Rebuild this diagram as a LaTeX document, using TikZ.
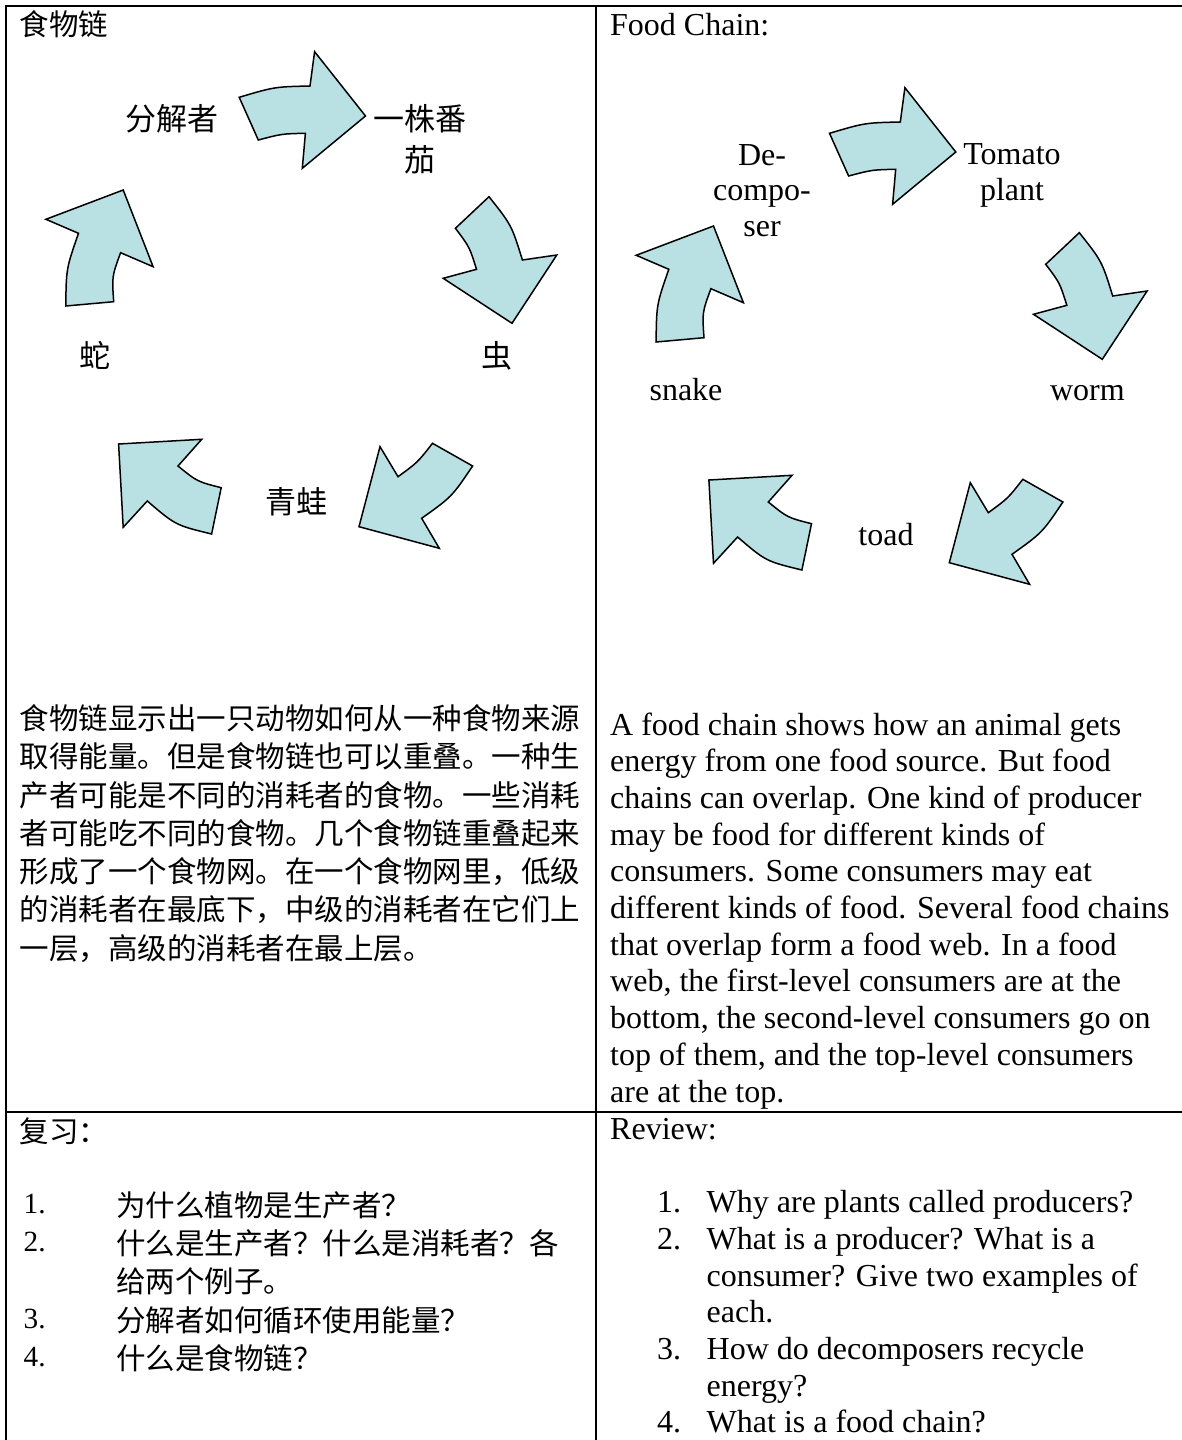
\documentclass[tikz,border=0pt]{standalone}
\usepackage{fontspec}
\setmainfont{Liberation Serif}
\newfontfamily\cjk{Noto Sans CJK SC}
\definecolor{arrowfill}{RGB}{185,224,227}
\newcommand\foodcyclearrows{%
  % top arrow
  \draw[cyclearrow] (239.2,97.3) .. controls (274.6,86.8) .. (310,86) -- (314.6,51.7) -- (365.5,116) -- (302.3,168.3) -- (305.4,133.3) .. controls (281.85,133.8) .. (258.3,140) -- cycle;
  % right arrow
  \draw[cyclearrow] (489,196.7) .. controls (511.6,225.2) .. (522.4,260) -- (556.8,255) -- (512,323.3) -- (443.2,278.3) -- (476.5,269.3) .. controls (469.5,246.9) .. (455.4,228.3) -- cycle;
  % bottom right arrow
  \draw[cyclearrow] (380,446.7) -- (398,476.7) .. controls (417.7,462.3) .. (432.5,443.3) -- (472.6,466) .. controls (451.9,496.75) .. (421.7,518.3) -- (439.3,548.3) -- (359,526.7) -- cycle;
  % bottom left arrow
  \draw[cyclearrow] (118.6,444) -- (201.7,439.3) -- (178,466) .. controls (197.2,481.6) .. (221.2,487.7) -- (211.6,534) .. controls (175.5,525.2) .. (147.3,501) -- (123.2,527.3) -- cycle;
  % left arrow
  \draw[cyclearrow] (65.8,306) .. controls (66.2,268.65) .. (78.5,233.3) -- (45.9,219.3) -- (123.2,190) -- (153.1,266.7) -- (120.6,252.7) .. controls (111.9,276.5) .. (113.7,301.7) -- cycle;
}
\begin{document}
\begin{tikzpicture}[x=1pt,y=-1pt,
  grid/.style={line width=2pt},
  cyclearrow/.style={draw=black, fill=arrowfill, line width=1.5pt, line join=miter},
  en/.style={font=\fontsize{32}{37}\selectfont, inner sep=0pt, anchor=base west},
  ennum/.style={font=\fontsize{29.3}{34}\selectfont, inner sep=0pt, anchor=base west},
  enlabel/.style={font=\fontsize{32}{37}\selectfont, inner sep=0pt, anchor=base},
  zh/.style={font=\cjk\fontsize{29.5}{38}\selectfont, inner sep=0pt, anchor=west},
  zhlabel/.style={font=\cjk\fontsize{31}{40}\selectfont, inner sep=0pt, anchor=center}]
\useasboundingbox (0,0) rectangle (1182,1440);
\fill[white] (0,0) rectangle (1182,1440);

% table lines
\draw[grid] (5.5,1440) -- (5.5,5.5) -- (1182,5.5);
\draw[grid] (595.7,5.5) -- (595.7,1440);
\draw[grid] (5.5,1111.7) -- (1182,1111.7);

% cycle diagrams
\begin{scope}
  \foodcyclearrows
\end{scope}
\begin{scope}[shift={(590.3,36)}]
  \foodcyclearrows
\end{scope}

% left panel
\node[zh] (zhtitle) at (19.5,24.5) {食物链};
\node[zhlabel] (zhdecomp) at (172,118.3) {分解者};
\node[zhlabel] (zhtomatoA) at (420,118.3) {一株番};
\node[zhlabel] (zhtomatoB) at (420,160) {茄};
\node[zhlabel] (zhsnake) at (94.7,355.8) {蛇};
\node[zhlabel] (zhworm) at (497,355.8) {虫};
\node[zhlabel] (zhfrog) at (296.5,501.7) {青蛙};

\node[zh] (zhb1) at (19.5,718.3) {食物链显示出一只动物如何从一种食物来源};
\node[zh] (zhb2) at (19.5,756.6) {取得能量。但是食物链也可以重叠。一种生};
\node[zh] (zhb3) at (19.5,795.0) {产者可能是不同的消耗者的食物。一些消耗};
\node[zh] (zhb4) at (19.5,833.3) {者可能吃不同的食物。几个食物链重叠起来};
\node[zh] (zhb5) at (19.5,871.6) {形成了一个食物网。在一个食物网里，低级};
\node[zh] (zhb6) at (19.5,909.9) {的消耗者在最底下，中级的消耗者在它们上};
\node[zh] (zhb7) at (19.5,948.3) {一层，高级的消耗者在最上层。};

\node[zh] (zhreview) at (19.5,1131.7) {复习：};
\node[ennum] (zhn1) at (23.5,1213.5) {1.};
\node[ennum] (zhn2) at (23.5,1251.8) {2.};
\node[ennum] (zhn3) at (23.5,1328.4) {3.};
\node[ennum] (zhn4) at (23.5,1366.7) {4.};
\node[zh] (zhq1) at (116,1205.0) {为什么植物是生产者？};
\node[zh] (zhq2) at (116,1243.3) {什么是生产者？什么是消耗者？各};
\node[zh] (zhq2b) at (116,1281.6) {给两个例子。};
\node[zh] (zhq3) at (116,1319.9) {分解者如何循环使用能量？};
\node[zh] (zhq4) at (116,1358.2) {什么是食物链？};

% right panel
\node[en] (entitle) at (610,35.5) {Food Chain:};
\node[enlabel] (endecA) at (762,165) {De-};
\node[enlabel] (endecB) at (762,200.5) {compo-};
\node[enlabel] (endecC) at (762,236) {ser};
\node[enlabel] (entomA) at (1012,164) {Tomato};
\node[enlabel] (entomB) at (1012,200) {plant};
\node[enlabel] (ensnake) at (686,400) {snake};
\node[enlabel] (enworm) at (1087.4,400) {worm};
\node[enlabel] (entoad) at (886,545) {toad};

\node[en] (enb1) at (610,735.0) {A food chain shows how an animal gets};
\node[en] (enb2) at (610,771.7) {energy from one food source. But food};
\node[en] (enb3) at (610,808.4) {chains can overlap. One kind of producer};
\node[en] (enb4) at (610,845.1) {may be food for different kinds of};
\node[en] (enb5) at (610,881.8) {consumers. Some consumers may eat};
\node[en] (enb6) at (610,918.5) {different kinds of food. Several food chains};
\node[en] (enb7) at (610,955.2) {that overlap form a food web. In a food};
\node[en] (enb8) at (610,991.9) {web, the first-level consumers are at the};
\node[en] (enb9) at (610,1028.6) {bottom, the second-level consumers go on};
\node[en] (enb10) at (610,1065.3) {top of them, and the top-level consumers};
\node[en] (enb11) at (610,1102.0) {are at the top.};

\node[en] (enreview) at (610,1139.3) {Review:};
\node[en] (enn1) at (657,1212.7) {1.};
\node[en] (enq1) at (706.5,1212.7) {Why are plants called producers?};
\node[en] (enn2) at (657,1249.4) {2.};
\node[en] (enq2) at (706.5,1249.4) {What is a producer? What is a};
\node[en] (enq2b) at (706.5,1286.1) {consumer? Give two examples of};
\node[en] (enq2c) at (706.5,1322.8) {each.};
\node[en] (enn3) at (657,1359.5) {3.};
\node[en] (enq3) at (706.5,1359.5) {How do decomposers recycle};
\node[en] (enq3b) at (706.5,1396.2) {energy?};
\node[en] (enn4) at (657,1432.9) {4.};
\node[en] (enq4) at (706.5,1432.9) {What is a food chain?};
\end{tikzpicture}
\end{document}
